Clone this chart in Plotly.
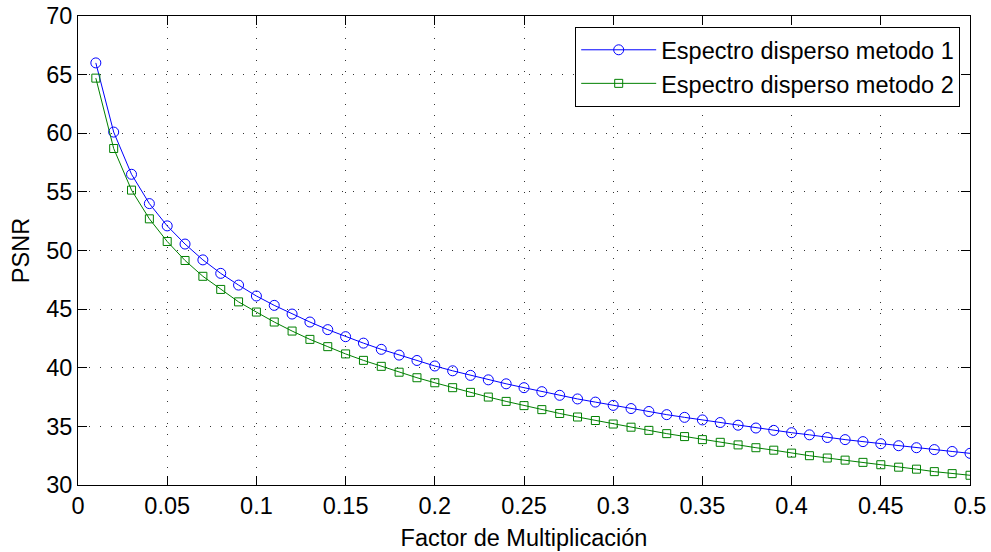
import plotly.graph_objects as go

factor = [round(0.01 * i, 2) for i in range(1, 51)]

psnr_metodo1 = [66.0, 60.1, 56.5, 54.0, 52.1, 50.55, 49.2, 48.05, 47.05, 46.12,
                45.32, 44.58, 43.9, 43.25, 42.65, 42.1, 41.57, 41.08, 40.62, 40.15,
                39.74, 39.35, 38.97, 38.63, 38.3, 37.96, 37.65, 37.34, 37.07, 36.79,
                36.52, 36.27, 36.0, 35.77, 35.55, 35.33, 35.1, 34.86, 34.66, 34.46,
                34.28, 34.05, 33.87, 33.7, 33.52, 33.35, 33.18, 33.02, 32.86, 32.7]

psnr_metodo2 = [64.7, 58.7, 55.15, 52.7, 50.77, 49.15, 47.8, 46.68, 45.62, 44.75,
                43.9, 43.13, 42.42, 41.8, 41.18, 40.63, 40.12, 39.62, 39.15, 38.72,
                38.3, 37.9, 37.5, 37.13, 36.77, 36.43, 36.1, 35.8, 35.5, 35.2,
                34.93, 34.66, 34.38, 34.13, 33.87, 33.64, 33.42, 33.18, 32.97, 32.72,
                32.5, 32.3, 32.12, 31.93, 31.73, 31.52, 31.35, 31.14, 30.97, 30.83]

x_tickvals = [0, 0.05, 0.1, 0.15, 0.2, 0.25, 0.3, 0.35, 0.4, 0.45, 0.5]
x_ticktext = ["0", "0.05", "0.1", "0.15", "0.2", "0.25", "0.3", "0.35", "0.4", "0.45", "0.5"]
y_tickvals = [30, 35, 40, 45, 50, 55, 60, 65, 70]

FONT = "Liberation Sans"
FS = 23.5

fig = go.Figure()
fig.add_trace(go.Scatter(
    x=factor, y=psnr_metodo1, mode="lines+markers",
    name="Espectro disperso metodo 1",
    line=dict(color="#0000FF", width=1),
    marker=dict(symbol="circle-open", size=10, color="#0000FF", line=dict(width=1, color="#0000FF")),
))
fig.add_trace(go.Scatter(
    x=factor, y=psnr_metodo2, mode="lines+markers",
    name="Espectro disperso metodo 2",
    line=dict(color="#008000", width=1),
    marker=dict(symbol="square-open", size=8, color="#008000", line=dict(width=1, color="#008000")),
))

axis_common = dict(
    showline=True, linecolor="black", linewidth=1, mirror="allticks",
    ticks="inside", ticklen=9, tickwidth=1, tickcolor="black",
    showgrid=True, gridcolor="#333333", gridwidth=1, griddash="1px,10px",
    zeroline=False, automargin=False,
    tickfont=dict(family=FONT, size=FS, color="black"),
)

fig.update_xaxes(
    range=[0, 0.5], tickvals=x_tickvals, ticktext=x_ticktext,
    title=dict(text="Factor de Multiplicación", font=dict(family=FONT, size=FS, color="black"), standoff=11),
    **axis_common,
)
fig.update_yaxes(
    range=[30, 70], tickvals=y_tickvals,
    title=dict(text="PSNR", font=dict(family=FONT, size=FS, color="black"), standoff=9),
    **axis_common,
)

fig.update_layout(
    width=991, height=552,
    margin=dict(l=78, r=21, t=16, b=67),
    paper_bgcolor="white", plot_bgcolor="white",
    font=dict(family=FONT, size=FS, color="black"),
    showlegend=True,
    legend=dict(
        x=0.989, y=0.9765, xanchor="right", yanchor="top",
        bgcolor="white", bordercolor="black", borderwidth=1,
        font=dict(family=FONT, size=FS, color="black"),
        itemwidth=75, tracegroupgap=0,
    ),
)

fig.write_html("out.html")
